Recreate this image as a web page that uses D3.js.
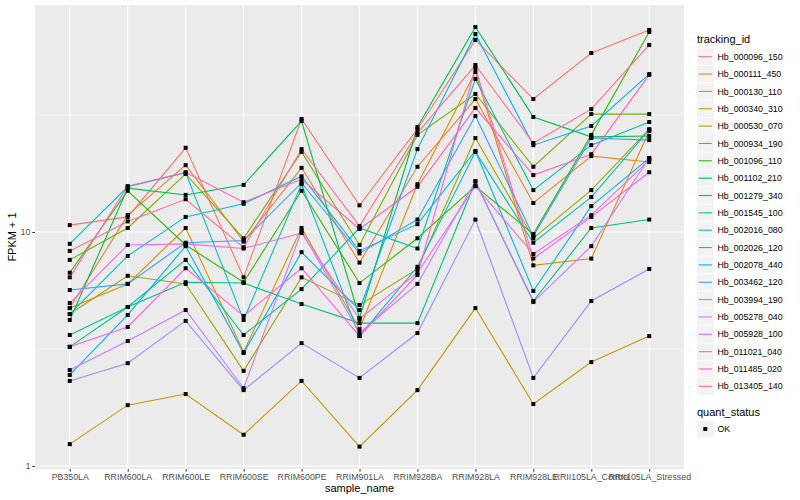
<!DOCTYPE html>
<html>
<head>
<meta charset="utf-8">
<script src="https://cdn.jsdelivr.net/npm/d3@7"></script>
<style>
  body { margin: 0; background: #fff; }
  text { font-family: "Liberation Sans", Arial, Helvetica, sans-serif; }
</style>
</head>
<body>
<div id="vis"></div>
<script>
// sample names along the x axis
const samples = ["PB350LA", "RRIM600LA", "RRIM600LE", "RRIM600SE", "RRIM600PE",
  "RRIM901LA", "RRIM928BA", "RRIM928LA", "RRIM928LE", "RRII105LA_Control", "RRII105LA_Stressed"];

const trackingIds = ["Hb_000096_150", "Hb_000111_450", "Hb_000130_110", "Hb_000340_310",
  "Hb_000530_070", "Hb_000934_190", "Hb_001096_110", "Hb_001102_210", "Hb_001279_340",
  "Hb_001545_100", "Hb_002016_080", "Hb_002026_120", "Hb_002078_440", "Hb_003462_120",
  "Hb_003994_190", "Hb_005278_040", "Hb_005928_100", "Hb_011021_040", "Hb_011485_020",
  "Hb_013405_140"];

// FPKM + 1, one array per gene, in sample order
const hb000096 = [10.7, 11.6, 22.9, 6.4, 30.4, 13.0, 27.5, 66.2, 37.0, 58.2, 73.0];
const hb000111 = [4.73, 11.8, 19.3, 9.1, 18.8, 7.4, 19.0, 37.0, 13.3, 21.1, 19.9];
const hb000130 = [4.73, 6.0, 10.4, 3.07, 10.4, 3.85, 16.0, 48.3, 7.2, 7.7, 27.0];
const hb000340 = [1.24, 1.82, 2.03, 1.36, 2.31, 1.21, 2.11, 4.73, 1.84, 2.78, 3.59];
const hb000530 = [4.46, 6.5, 6.0, 2.55, 6.4, 4.88, 6.95, 25.2, 9.4, 15.1, 27.5];
const hb000934 = [7.6, 10.4, 17.7, 9.4, 22.0, 8.8, 26.0, 38.9, 19.0, 31.9, 31.9];
const hb001096 = [6.7, 15.0, 8.8, 6.1, 15.0, 6.05, 9.4, 15.7, 9.8, 26.0, 71.6];
const hb001102 = [4.21, 15.4, 14.4, 15.9, 29.8, 4.29, 28.1, 75.2, 31.0, 25.5, 25.7];
const hb001279 = [3.23, 4.78, 6.1, 6.05, 4.92, 4.08, 4.08, 16.4, 5.07, 10.4, 11.3];
const hb001545 = [3.63, 4.78, 7.6, 3.63, 5.7, 10.4, 8.5, 45.1, 15.1, 23.5, 29.5];
const hb002016 = [8.9, 15.6, 17.9, 4.21, 16.0, 3.59, 7.1, 22.0, 9.0, 14.1, 27.3];
const hb002026 = [4.46, 7.9, 11.6, 13.2, 17.3, 8.3, 10.8, 22.2, 5.6, 12.9, 20.7];
const hb002078 = [2.45, 4.42, 8.7, 3.04, 8.2, 4.64, 22.6, 70.2, 23.5, 28.4, 47.3];
const hb003462 = [5.65, 6.0, 9.0, 9.2, 16.2, 8.1, 11.3, 31.3, 9.6, 25.2, 24.7];
const hb003994 = [2.31, 2.75, 4.17, 2.11, 3.35, 2.38, 3.70, 11.3, 2.38, 5.07, 6.95];
const hb005278 = [2.57, 3.42, 4.64, 2.15, 10.1, 3.70, 6.0, 16.5, 5.02, 8.7, 20.7];
const hb005928 = [4.97, 8.8, 8.9, 8.5, 9.9, 4.25, 6.7, 15.7, 8.05, 11.8, 20.3];
const hb011021 = [3.23, 3.93, 7.0, 4.38, 7.0, 3.59, 6.55, 50.2, 7.7, 11.6, 18.0];
const hb011485 = [6.4, 15.7, 18.0, 13.4, 16.8, 10.3, 15.6, 33.9, 17.5, 21.5, 46.9];
const hb013405 = [8.3, 11.1, 13.8, 8.6, 22.6, 10.6, 26.5, 51.7, 24.0, 33.5, 63.0];

const seriesValues = [hb000096, hb000111, hb000130, hb000340, hb000530, hb000934, hb001096,
  hb001102, hb001279, hb001545, hb002016, hb002026, hb002078, hb003462, hb003994, hb005278,
  hb005928, hb011021, hb011485, hb013405];

const yTicks = [1, 10];

// ggplot hue palette for 20 levels
const COLORS = ["#F8766D", "#EA8331", "#D89000", "#C09B00", "#A3A500", "#7CAE00", "#39B600",
  "#00BB4E", "#00BF7D", "#00C1A3", "#00BFC4", "#00BAE0", "#00B0F6", "#35A2FF", "#9590FF",
  "#C77CFF", "#E76BF3", "#FA62DB", "#FF62BC", "#FF6C91"];

const WIDTH = 800, HEIGHT = 500;
const PANEL = {left: 35, right: 684, top: 5, bottom: 469};

const svg = d3.select("#vis").append("svg")
  .attr("width", WIDTH).attr("height", HEIGHT);

const X = d3.scalePoint().domain(samples)
  .range([PANEL.left, PANEL.right]).padding(0.6);
const Y = d3.scaleLog().domain([Math.pow(10, -0.0128), Math.pow(10, 1.97)])
  .range([PANEL.bottom, PANEL.top]);

// panel background + grid
svg.append("rect")
  .attr("x", PANEL.left).attr("y", PANEL.top)
  .attr("width", PANEL.right - PANEL.left).attr("height", PANEL.bottom - PANEL.top)
  .attr("fill", "#EBEBEB");

[Math.sqrt(10), Math.sqrt(1000)].forEach(v => {
  svg.append("line")
    .attr("x1", PANEL.left).attr("x2", PANEL.right)
    .attr("y1", Y(v)).attr("y2", Y(v))
    .attr("stroke", "#fff").attr("stroke-width", 0.55);
});
yTicks.forEach(v => {
  svg.append("line")
    .attr("x1", PANEL.left).attr("x2", PANEL.right)
    .attr("y1", Y(v)).attr("y2", Y(v))
    .attr("stroke", "#fff").attr("stroke-width", 1.1);
});
samples.forEach(s => {
  svg.append("line")
    .attr("x1", X(s)).attr("x2", X(s))
    .attr("y1", PANEL.top).attr("y2", PANEL.bottom)
    .attr("stroke", "#fff").attr("stroke-width", 1.1);
});

// lines
const line = d3.line().x((d, i) => X(samples[i])).y(d => Y(d));
seriesValues.forEach((vals, k) => {
  svg.append("path")
    .datum(vals)
    .attr("d", line)
    .attr("fill", "none")
    .attr("stroke", COLORS[k])
    .attr("stroke-width", 1.1);
});

// points (quant_status OK -> small squares)
seriesValues.forEach(vals => {
  svg.append("g").selectAll("rect")
    .data(vals)
    .enter().append("rect")
      .attr("x", (d, i) => X(samples[i]) - 2)
      .attr("y", d => Y(d) - 2)
      .attr("width", 4).attr("height", 4)
      .attr("fill", "#000");
});

// axes
const yAxis = svg.append("g")
  .attr("transform", "translate(" + PANEL.left + ",0)")
  .call(d3.axisLeft(Y).tickValues(yTicks).tickFormat(d3.format("d")).tickSize(2.7).tickPadding(2));
const xAxis = svg.append("g")
  .attr("transform", "translate(0," + PANEL.bottom + ")")
  .call(d3.axisBottom(X).tickSize(2.7).tickPadding(2));
[yAxis, xAxis].forEach(ax => {
  ax.select(".domain").remove();
  ax.selectAll(".tick line").attr("stroke", "#333333");
  ax.selectAll(".tick text").attr("fill", "#4D4D4D").attr("font-size", "8.8px")
    .attr("font-family", "Liberation Sans, Arial, sans-serif");
});

// axis titles
svg.append("text")
  .attr("x", (PANEL.left + PANEL.right) / 2).attr("y", 492)
  .attr("text-anchor", "middle").attr("font-size", "11px").text("sample_name");
svg.append("text")
  .attr("transform", "translate(16," + ((PANEL.top + PANEL.bottom) / 2) + ") rotate(-90)")
  .attr("text-anchor", "middle").attr("font-size", "11px").text("FPKM + 1");

// legend: tracking_id
const LEG_X = 697, LEG_Y0 = 56.7, LEG_STEP = 17.35;
svg.append("text").attr("x", LEG_X).attr("y", 43)
  .attr("font-size", "11px").text("tracking_id");
trackingIds.forEach((id, k) => {
  const cy = LEG_Y0 + k * LEG_STEP;
  svg.append("rect").attr("x", LEG_X).attr("y", cy - 8.3)
    .attr("width", 16.6).attr("height", 16.6).attr("fill", "#F2F2F2");
  svg.append("line").attr("x1", LEG_X + 1.7).attr("x2", LEG_X + 14.9)
    .attr("y1", cy).attr("y2", cy)
    .attr("stroke", COLORS[k]).attr("stroke-width", 1.1);
  svg.append("text").attr("x", LEG_X + 20.5).attr("y", cy + 3.1)
    .attr("font-size", "8.8px").attr("fill", "#000").text(id);
});

// legend: quant_status
svg.append("text").attr("x", LEG_X).attr("y", 416)
  .attr("font-size", "11px").text("quant_status");
svg.append("rect").attr("x", LEG_X).attr("y", 429 - 8.3)
  .attr("width", 16.6).attr("height", 16.6).attr("fill", "#F2F2F2");
svg.append("rect").attr("x", LEG_X + 8.3 - 2).attr("y", 429 - 2)
  .attr("width", 4).attr("height", 4).attr("fill", "#000");
svg.append("text").attr("x", LEG_X + 20.5).attr("y", 429 + 3.1)
  .attr("font-size", "8.8px").text("OK");
</script>
</body>
</html>
